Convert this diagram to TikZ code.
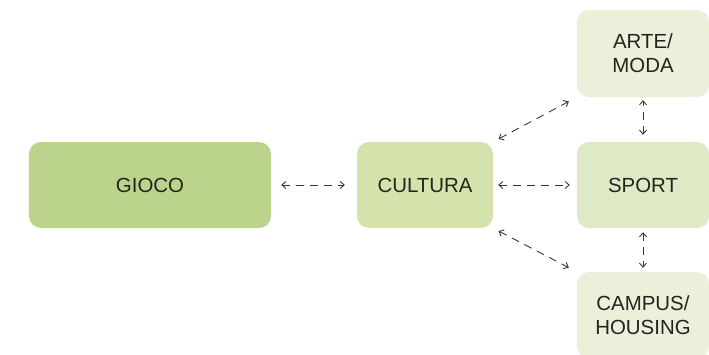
\documentclass[tikz,border=0pt]{standalone}
\usepackage{fontspec}
\setmainfont{Liberation Sans}
\usetikzlibrary{arrows.meta}
\definecolor{gA}{RGB}{188,211,140}
\definecolor{gB}{RGB}{212,227,172}
\definecolor{gC}{RGB}{222,233,198}
\definecolor{gD}{RGB}{234,240,218}
\definecolor{txt}{RGB}{35,38,30}
\definecolor{arr}{RGB}{55,55,55}
\tikzset{
  box/.style={rounded corners=12bp, inner sep=0pt, align=center,
    font=\fontsize{20.5}{24}\selectfont, text=txt},
  link/.style={draw=arr, line width=0.9bp, dash pattern=on 8bp off 6bp,
    {Straight Barb[length=4bp,width=7bp]}-{Straight Barb[length=4bp,width=7bp]}}
}
\begin{document}
\begin{tikzpicture}[x=1bp,y=-1bp]
\useasboundingbox (0,0) rectangle (709,354);
\fill[white] (0,0) rectangle (709,354);
\node[box, fill=gA, minimum width=242bp, minimum height=86bp] (gioco) at (150,185) {GIOCO};
\node[box, fill=gB, minimum width=136bp, minimum height=86bp] (cultura) at (425,185) {CULTURA};
\node[box, fill=gC, minimum width=132bp, minimum height=86bp] (sport) at (643,185) {SPORT};
\node[box, fill=gD, minimum width=132bp, minimum height=87bp] (arte) at (643,53.5) {ARTE/\\MODA};
\node[box, fill=gD, minimum width=132bp, minimum height=86bp] (campus) at (643,315) {CAMPUS/\\HOUSING};
\draw[link, shorten <=10bp, shorten >=12bp] (gioco.east) -- (cultura.west);
\draw[link, shorten <=5bp, shorten >=7bp] (cultura.east) -- (sport.west);
\draw[link, shorten <=6bp, shorten >=9bp] (cultura.north east) -- (arte.south west);
\draw[link, shorten <=6bp, shorten >=9bp] (cultura.south east) -- (campus.north west);
\draw[link, shorten <=7bp, shorten >=3bp] (sport.north) -- (arte.south);
\draw[link, shorten <=4bp, shorten >=4bp] (sport.south) -- (campus.north);
\end{tikzpicture}
\end{document}
